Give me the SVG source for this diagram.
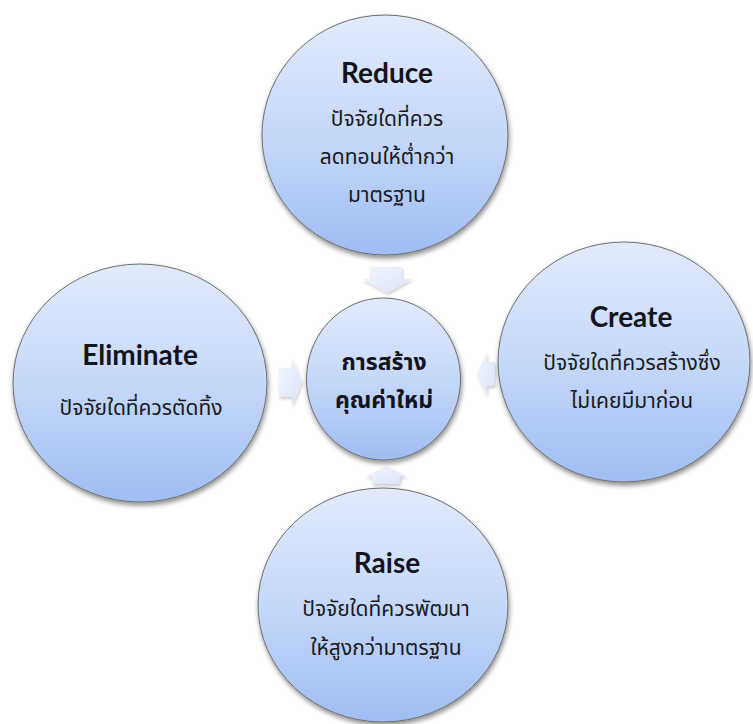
<svg xmlns="http://www.w3.org/2000/svg" width="753" height="724" viewBox="0 0 753 724">
  <defs>
    <linearGradient id="ballFill" x1="0" y1="0" x2="0" y2="1">
      <stop offset="0" stop-color="#e2ebfc"/>
      <stop offset="0.5" stop-color="#c6d8f9"/>
      <stop offset="1" stop-color="#9fbdf3"/>
    </linearGradient>
    <linearGradient id="arrowFill" x1="0" y1="0" x2="1" y2="1">
      <stop offset="0" stop-color="#f1f5fd"/>
      <stop offset="1" stop-color="#d9e4fa"/>
    </linearGradient>
    <filter id="shadow" x="-20%" y="-20%" width="140%" height="140%">
      <feGaussianBlur in="SourceAlpha" stdDeviation="2.5"/>
      <feOffset dx="1" dy="3" result="b"/>
      <feFlood flood-color="#000" flood-opacity="0.45"/>
      <feComposite in2="b" operator="in"/>
      <feMerge>
        <feMergeNode/>
        <feMergeNode in="SourceGraphic"/>
      </feMerge>
    </filter>
    <filter id="softShadow" x="-50%" y="-50%" width="200%" height="200%">
      <feGaussianBlur in="SourceAlpha" stdDeviation="1.5"/>
      <feOffset dx="1" dy="2" result="b"/>
      <feFlood flood-color="#000" flood-opacity="0.2"/>
      <feComposite in2="b" operator="in"/>
      <feMerge>
        <feMergeNode/>
        <feMergeNode in="SourceGraphic"/>
      </feMerge>
    </filter>
  </defs>
  <style>
    .ball { fill: url(#ballFill); stroke: #6e6e6e; stroke-width: 1; filter: url(#shadow); }
    .arrow { fill: url(#arrowFill); stroke: none; filter: url(#softShadow); }
    .title { font-family: Lato, "Open Sans", "Liberation Sans", sans-serif; font-weight: bold; font-size: 28px; fill: #14141e; text-anchor: middle; }
    .thai { font-family: "Noto Sans Thai", Tahoma, "Noto Sans", "DejaVu Sans", sans-serif; font-size: 21px; fill: #1a1a22; text-anchor: middle; }
    .hub { font-family: "Noto Sans Thai", Tahoma, "Noto Sans", "DejaVu Sans", sans-serif; font-weight: bold; font-size: 23px; fill: #14141e; text-anchor: middle; }
  </style>

  <rect width="753" height="724" fill="#ffffff"/>

  <!-- connectors: block arrows pointing into the hub -->
  <g id="connectors">
    <polygon class="arrow" points="370,267 402,267 402,279 412,279 387,293 362,279 370,279"/>
    <polygon class="arrow" points="279,368 292,368 292,359 302,382 292,406 292,397 279,397"/>
    <polygon class="arrow" points="495,362 487,362 487,352 477,374 487,396 487,386 495,386"/>
    <polygon class="arrow" points="372,484 372,477 365,477 386,466 407,477 400,477 400,484"/>
  </g>

  <g id="reduce">
    <ellipse class="ball" cx="385" cy="135" rx="123" ry="120"/>
    <text class="title" x="387" y="83">Reduce</text>
    <text class="thai" x="387" y="126">ปัจจัยใดที่ควร</text>
    <text class="thai" x="387" y="164">ลดทอนให้ต่ำกว่า</text>
    <text class="thai" x="387" y="202">มาตรฐาน</text>
  </g>

  <g id="eliminate">
    <ellipse class="ball" cx="140" cy="383" rx="127" ry="119"/>
    <text class="title" x="140" y="365">Eliminate</text>
    <text class="thai" x="141" y="415">ปัจจัยใดที่ควรตัดทิ้ง</text>
  </g>

  <g id="create">
    <ellipse class="ball" cx="624" cy="362" rx="126" ry="120"/>
    <text class="title" x="631" y="327">Create</text>
    <text class="thai" x="632" y="370">ปัจจัยใดที่ควรสร้างซึ่ง</text>
    <text class="thai" x="632" y="408">ไม่เคยมีมาก่อน</text>
  </g>

  <g id="raise">
    <ellipse class="ball" cx="383" cy="605" rx="125" ry="117"/>
    <text class="title" x="387" y="573">Raise</text>
    <text class="thai" x="386" y="616">ปัจจัยใดที่ควรพัฒนา</text>
    <text class="thai" x="386" y="655">ให้สูงกว่ามาตรฐาน</text>
  </g>

  <g id="hub">
    <ellipse class="ball" cx="383.5" cy="379" rx="77" ry="81"/>
    <text class="hub" x="384" y="370">การสร้าง</text>
    <text class="hub" x="384" y="408">คุณค่าใหม่</text>
  </g>
</svg>
